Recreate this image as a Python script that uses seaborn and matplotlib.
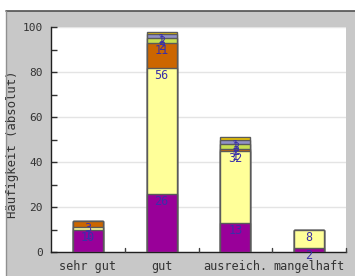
import numpy as np
import pandas as pd
import matplotlib
matplotlib.use('Agg')
import matplotlib.pyplot as plt
from matplotlib.patches import Rectangle
from matplotlib.lines import Line2D
import seaborn as sns

# Chart data: stacked counts per grade
categories = ["sehr gut", "gut", "ausreich.", "mangelhaft"]
purple = [10, 26, 13, 2]
light_yellow = [1, 56, 32, 8]
orange = [3, 11, 1, 0]
green = [0, 2, 2, 0]
blue = [0, 2, 2, 0]
gold = [0, 1, 1, 0]
y_ticks = [0, 20, 40, 60, 80, 100]
y_label = "Häufigkeit (absolut)"

layers = [purple, light_yellow, orange, green, blue, gold]
colors = ["#990099", "#ffff99", "#cc6600", "#c8e050", "#9090c8", "#f0c800"]

sns.set_theme(style="white")
plt.rcParams['font.family'] = ['DejaVu Sans Mono']

fig = plt.figure(figsize=(3.55, 2.76), dpi=100, facecolor="white")

# gray panel behind the plot
fig.patches.append(Rectangle((6 / 355, 0), 349 / 355, 265 / 276, transform=fig.transFigure,
                             facecolor="#c8c8c8", edgecolor="none", zorder=-2))
fig.lines.append(Line2D([6 / 355, 1], [265 / 276, 265 / 276], transform=fig.transFigure,
                        color="#505050", lw=1.2))
fig.lines.append(Line2D([6 / 355, 6 / 355], [0, 265 / 276], transform=fig.transFigure,
                        color="#909090", lw=1))

ax = fig.add_axes([51 / 355, 24 / 276, 295 / 355, 225 / 276])
ax.set_facecolor("white")

cum = np.cumsum(np.array(layers), axis=0)
# draw cumulative totals from top layer down so lower layers cover upper ones
for i in range(len(layers) - 1, -1, -1):
    df = pd.DataFrame({"cat": categories, "val": cum[i]})
    sns.barplot(data=df, x="cat", y="val", color=colors[i], width=0.41,
                edgecolor="#5a5a5a", linewidth=1, saturation=1, ax=ax, zorder=3)

# segment labels
for i, layer in enumerate(layers):
    for j, v in enumerate(layer):
        if v > 0:
            ax.text(j, cum[i][j] - 0.6, str(v), ha="center", va="top",
                    fontsize=8.5, color="#3a30a8", zorder=5)

ax.set_ylim(0, 100)
ax.set_xlim(-0.5, len(categories) - 0.5)
ax.set_yticks(y_ticks)
ax.set_yticks(range(10, 100, 20), minor=True)
ax.yaxis.grid(True, color="#e4e4e4", lw=1, zorder=0)
ax.set_axisbelow(True)

ax.set_xticks(range(len(categories)))
ax.set_xticklabels(categories, fontsize=8.5, color="#333333")
ax.tick_params(axis="x", length=0, pad=6)
# boundary ticks on the x axis
for b in np.arange(0.5, len(categories), 1.0):
    ax.plot([b, b], [0, 1.8], color="#404040", lw=1, zorder=4, clip_on=False)

ax.tick_params(axis="y", which="both", direction="in", length=4, width=1,
               color="#303030", labelsize=8, labelcolor="#333333", pad=6, left=True)
ax.set_xlabel("")
ax.set_ylabel(y_label, fontsize=8.8, color="#333333")
ax.yaxis.set_label_coords(-0.11, 0.48)

for side in ["top", "right"]:
    ax.spines[side].set_visible(False)
for side in ["left", "bottom"]:
    ax.spines[side].set_color("#202020")
    ax.spines[side].set_linewidth(1)

fig.savefig("out.png", dpi=100, facecolor=fig.get_facecolor())
